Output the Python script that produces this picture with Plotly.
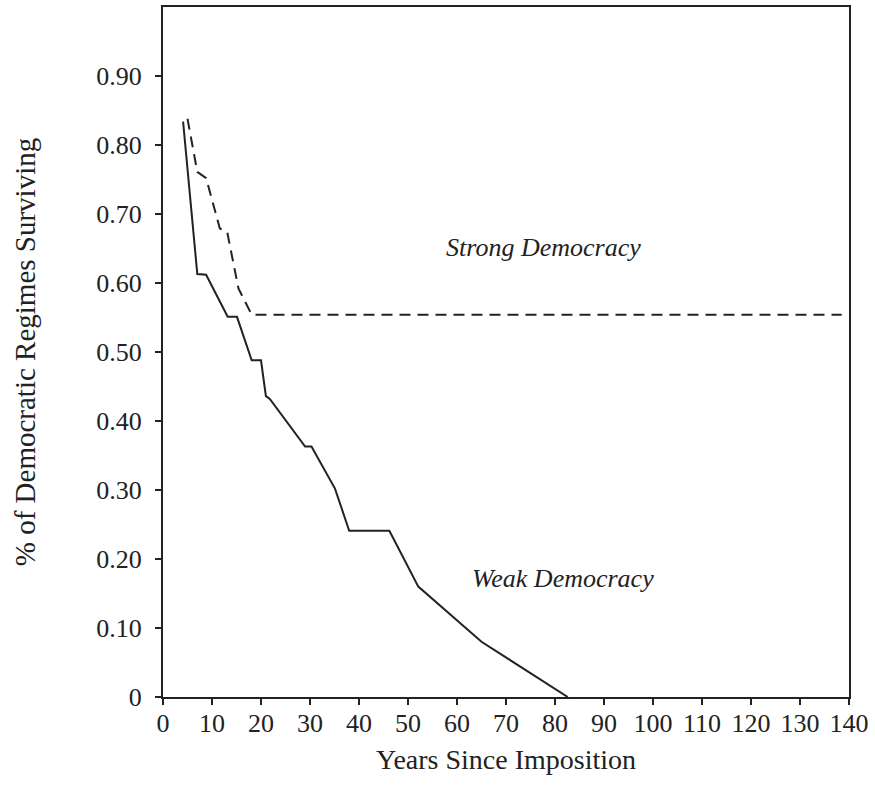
import plotly.graph_objects as go

# Weak democracy (solid)
weak_years = [4.1, 7.0, 8.8, 13.2, 15.1, 18.1, 20.0, 21.0, 21.8, 29.0, 30.3, 35.1, 38.0, 46.2, 52.1, 65.0, 82.6]
weak_surv = [0.834, 0.613, 0.612, 0.551, 0.551, 0.488, 0.488, 0.436, 0.432, 0.363, 0.363, 0.302, 0.241, 0.241, 0.160, 0.080, 0.0]

# Strong democracy (dashed)
strong_years = [5.0, 7.0, 8.8, 11.6, 13.1, 15.4, 18.1, 138.5]
strong_surv = [0.838, 0.761, 0.752, 0.679, 0.674, 0.592, 0.554, 0.554]

x_ticks = list(range(0, 141, 10))
y_ticks = [0, 0.1, 0.2, 0.3, 0.4, 0.5, 0.6, 0.7, 0.8, 0.9]
y_tick_labels = ["0", "0.10", "0.20", "0.30", "0.40", "0.50", "0.60", "0.70", "0.80", "0.90"]

FONT = "Liberation Serif"
INK = "#222222"

fig = go.Figure()
fig.add_trace(go.Scatter(x=weak_years, y=weak_surv, mode="lines",
                         line=dict(color=INK, width=2), name="Weak Democracy",
                         showlegend=False))
fig.add_trace(go.Scatter(x=strong_years, y=strong_surv, mode="lines",
                         line=dict(color=INK, width=2, dash="11px,7px"),
                         name="Strong Democracy", showlegend=False))

fig.add_annotation(x=77.6, y=0.652, text="<i>Strong Democracy</i>", showarrow=False,
                   font=dict(family=FONT, size=26, color=INK))
fig.add_annotation(x=81.6, y=0.172, text="<i>Weak Democracy</i>", showarrow=False,
                   font=dict(family=FONT, size=26, color=INK))

fig.update_layout(
    width=875, height=808,
    margin=dict(l=163, r=26, t=7, b=111),
    paper_bgcolor="white", plot_bgcolor="white",
    font=dict(family=FONT, size=26, color=INK),
    xaxis=dict(range=[0, 140], tickvals=x_ticks, showgrid=False, zeroline=False,
               showline=True, linecolor=INK, linewidth=2, mirror=True,
               ticks="outside", ticklen=6, tickwidth=2, tickcolor=INK,
               ticklabelstandoff=-4, automargin=False,
               title=dict(text="Years Since Imposition", standoff=12,
                          font=dict(family=FONT, size=28))),
    yaxis=dict(range=[0, 1.0], tickvals=y_ticks, ticktext=y_tick_labels,
               showgrid=False, zeroline=False,
               showline=True, linecolor=INK, linewidth=2, mirror=True,
               ticks="outside", ticklen=6, tickwidth=2, tickcolor=INK,
               ticklabelstandoff=8, automargin=False,
               title=dict(text="% of Democratic Regimes Surviving", standoff=52,
                          font=dict(family=FONT, size=29))),
)

fig.write_html("out.html", config={"displayModeBar": False},
               post_script="document.body.style.margin='0';document.body.style.overflow='hidden';")
